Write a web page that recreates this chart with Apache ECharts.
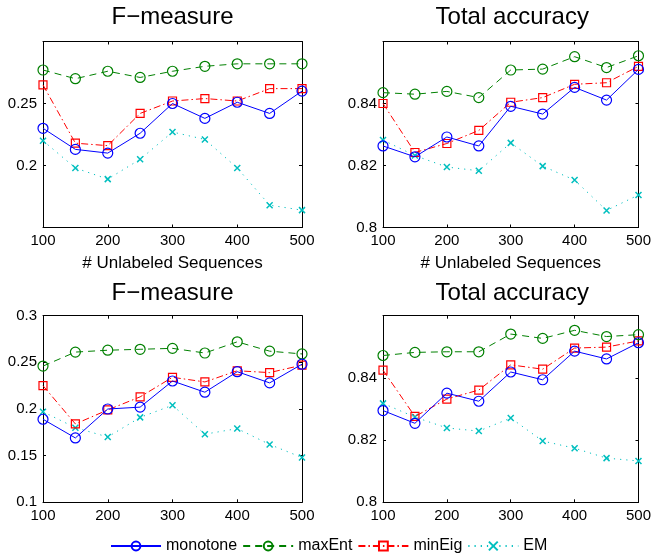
<!DOCTYPE html>
<html>
<head>
<meta charset="utf-8">
<script src="https://cdn.jsdelivr.net/npm/echarts@6/dist/echarts.min.js"></script>
<style>html,body{margin:0;padding:0;background:#fff}#c{width:654px;height:556px}</style>
</head>
<body>
<div id="c"></div>
<script>
const xValues = [100, 150, 200, 250, 300, 350, 400, 450, 500];
const seriesNames = ['monotone', 'maxEnt', 'minEig', 'EM'];
const panelTitles = ['F\u2212measure', 'Total accuracy', 'F\u2212measure', 'Total accuracy'];
const xAxisName = '# Unlabeled Sequences';

// Panel 1: F-measure (top)
const p1Monotone = [0.230, 0.213, 0.210, 0.226, 0.250, 0.238, 0.251, 0.242, 0.260];
const p1MaxEnt   = [0.277, 0.270, 0.276, 0.271, 0.276, 0.280, 0.282, 0.282, 0.282];
const p1MinEig   = [0.265, 0.218, 0.216, 0.242, 0.252, 0.254, 0.252, 0.262, 0.262];
const p1EM       = [0.220, 0.198, 0.189, 0.205, 0.227, 0.221, 0.198, 0.168, 0.164];
// Panel 2: Total accuracy (top)
const p2Monotone = [0.8263, 0.8228, 0.8292, 0.8263, 0.8391, 0.8366, 0.8452, 0.8411, 0.8510];
const p2MaxEnt   = [0.8435, 0.8430, 0.8439, 0.8419, 0.8508, 0.8511, 0.8551, 0.8516, 0.8554];
const p2MinEig   = [0.8400, 0.8242, 0.8271, 0.8313, 0.8404, 0.8419, 0.8462, 0.8467, 0.8520];
const p2EM       = [0.8282, 0.8232, 0.8195, 0.8183, 0.8273, 0.8198, 0.8153, 0.8055, 0.8105];
// Panel 3: F-measure (bottom)
const p3Monotone = [0.189, 0.169, 0.200, 0.202, 0.230, 0.218, 0.240, 0.228, 0.248];
const p3MaxEnt   = [0.246, 0.261, 0.263, 0.264, 0.265, 0.260, 0.272, 0.262, 0.259];
const p3MinEig   = [0.225, 0.184, 0.199, 0.213, 0.234, 0.229, 0.241, 0.239, 0.247];
const p3EM       = [0.197, 0.180, 0.170, 0.191, 0.204, 0.173, 0.179, 0.162, 0.148];
// Panel 4: Total accuracy (bottom)
const p4Monotone = [0.8295, 0.8254, 0.8351, 0.8325, 0.8419, 0.8394, 0.8486, 0.8461, 0.8513];
const p4MaxEnt   = [0.8472, 0.8482, 0.8484, 0.8484, 0.8541, 0.8527, 0.8553, 0.8533, 0.8539];
const p4MinEig   = [0.8425, 0.8276, 0.8332, 0.8361, 0.8442, 0.8428, 0.8496, 0.8499, 0.8519];
const p4EM       = [0.8318, 0.8274, 0.8239, 0.8229, 0.8271, 0.8197, 0.8174, 0.8142, 0.8133];

const yMins = [0.15, 0.80, 0.10, 0.80];
const yMaxs = [0.30, 0.86, 0.30, 0.86];
const yIntervals = [0.05, 0.02, 0.05, 0.02];

const panelData = [
  [p1Monotone, p1MaxEnt, p1MinEig, p1EM],
  [p2Monotone, p2MaxEnt, p2MinEig, p2EM],
  [p3Monotone, p3MaxEnt, p3MinEig, p3EM],
  [p4Monotone, p4MaxEnt, p4MinEig, p4EM]
];

const FONT = '"Liberation Sans", Arial, Helvetica, sans-serif';
const colors = ['#0000ff', '#008000', '#ff0000', '#00bfbf'];
const lineTypes = ['solid', [7, 5], [7, 3, 1.5, 3], [1.2, 5]];
const symbols = ['circle', 'circle', 'rect', 'path://M0,0L10,10M10,0L0,10'];
const symbolSizes = [10, 10, 8, 6];

const grids = [
  {left: 43, top: 41.5, width: 259, height: 186},
  {left: 383, top: 41.5, width: 258.5, height: 186},
  {left: 43, top: 315.7, width: 259, height: 186.6},
  {left: 383, top: 315.7, width: 258.5, height: 186.6}
];

const fmt = v => String(Math.round(v * 100) / 100);

const xAxes = [], yAxes = [], series = [], graphics = [];
grids.forEach((g, i) => {
  xAxes.push({
    type: 'value', gridIndex: i, min: 100, max: 500, interval: 100, position: 'bottom',
    name: i < 2 ? xAxisName : '', nameLocation: 'middle', nameGap: 27,
    nameTextStyle: {fontFamily: FONT, fontSize: 17, color: '#000'},
    axisLine: {show: true, lineStyle: {color: '#000', width: 1}},
    axisTick: {show: true, inside: true, length: 3, lineStyle: {color: '#000'}},
    axisLabel: {fontFamily: FONT, fontSize: 15, color: '#000', margin: 6},
    splitLine: {show: false}
  });
  xAxes.push({
    type: 'value', gridIndex: i, min: 100, max: 500, interval: 100, position: 'top',
    axisLine: {show: true, lineStyle: {color: '#000', width: 1}},
    axisTick: {show: true, inside: true, length: 3, lineStyle: {color: '#000'}},
    axisLabel: {show: false}, splitLine: {show: false}
  });
  yAxes.push({
    type: 'value', gridIndex: i, min: yMins[i], max: yMaxs[i], interval: yIntervals[i], position: 'left',
    axisLine: {show: true, lineStyle: {color: '#000', width: 1}},
    axisTick: {show: true, inside: true, length: 3, lineStyle: {color: '#000'}},
    axisLabel: {fontFamily: FONT, fontSize: 15, color: '#000', margin: 6, formatter: fmt,
      showMinLabel: i !== 0, showMaxLabel: i === 2},
    splitLine: {show: false}
  });
  yAxes.push({
    type: 'value', gridIndex: i, min: yMins[i], max: yMaxs[i], interval: yIntervals[i], position: 'right',
    axisLine: {show: true, lineStyle: {color: '#000', width: 1}},
    axisTick: {show: true, inside: true, length: 3, lineStyle: {color: '#000'}},
    axisLabel: {show: false}, splitLine: {show: false}
  });
  panelData[i].forEach((vals, s) => {
    series.push({
      name: seriesNames[s], type: 'line', xAxisIndex: 2 * i, yAxisIndex: 2 * i,
      data: xValues.map((x, k) => [x, vals[k]]),
      symbol: symbols[s], symbolSize: symbolSizes[s], showAllSymbol: true,
      lineStyle: {color: colors[s], width: 1, type: lineTypes[s]},
      itemStyle: {color: 'none', borderColor: colors[s], borderWidth: s === 3 ? 1.5 : 1.2},
      z: 10 - s, animation: false
    });
  });
  graphics.push({
    type: 'text', x: g.left + g.width / 2, y: i < 2 ? 17.5 : 293,
    style: {text: panelTitles[i], font: '24px ' + FONT, fill: '#000', align: 'center', verticalAlign: 'middle'}
  });
});

const chart = echarts.init(document.getElementById('c'), null, {renderer: 'canvas'});
chart.setOption({
  animation: false,
  grid: grids,
  xAxis: xAxes,
  yAxis: yAxes,
  series: series,
  graphic: graphics,
  legend: {
    data: seriesNames, left: 105, top: 533, itemWidth: 50, itemHeight: 11, itemGap: 5,
    textStyle: {fontFamily: FONT, fontSize: 16, color: '#000'}
  }
});
</script>
</body>
</html>
